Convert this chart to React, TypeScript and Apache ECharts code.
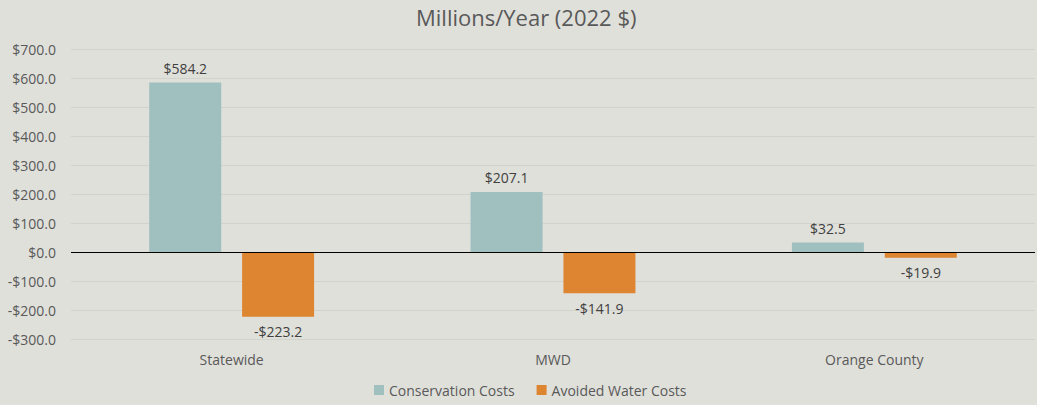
import React, { useEffect, useRef } from "react";
import * as echarts from "echarts";

const categories = ["Statewide", "MWD", "Orange County"];
const conservationCosts = [584.2, 207.1, 32.5];
const avoidedWaterCosts = [-223.2, -141.9, -19.9];
const seriesNames = ["Conservation Costs", "Avoided Water Costs"];
const titleText = "Millions/Year (2022 $)";

const fmt = (v: number) => (v < 0 ? "-$" + Math.abs(v).toFixed(1) : "$" + v.toFixed(1));
const FONT = "'Open Sans', 'Noto Sans', sans-serif";

export default function App() {
  const ref = useRef<HTMLDivElement>(null);
  useEffect(() => {
    if (!ref.current) return;
    const chart = echarts.init(ref.current, null, { renderer: "svg" });
    chart.setOption({
      animation: false,
      backgroundColor: "#e0e0db",
      textStyle: { fontFamily: FONT },
      title: {
        text: titleText,
        left: 411,
        top: 1,
        textStyle: { fontFamily: FONT, fontSize: 22, fontWeight: "normal", color: "#595959" },
      },
      legend: {
        bottom: 3,
        left: 369,
        itemWidth: 10,
        itemHeight: 10,
        itemGap: 22,
        icon: "rect",
        textStyle: { fontFamily: FONT, fontSize: 14, color: "#595959" },
        data: seriesNames,
      },
      grid: { left: 71, right: 2, top: 49, bottom: 66 },
      xAxis: {
        type: "category",
        data: categories,
        axisLine: { show: false, onZero: false },
        axisTick: { show: false },
        axisLabel: { margin: 13, fontFamily: FONT, fontSize: 14, color: "#595959" },
      },
      yAxis: {
        type: "value",
        min: -300,
        max: 700,
        interval: 100,
        axisLine: { show: false },
        axisTick: { show: false },
        splitLine: { lineStyle: { color: "#d3d3ce", width: 1 } },
        axisLabel: {
          margin: 15,
          fontFamily: FONT,
          fontSize: 14,
          color: "#595959",
          formatter: (v: number) => fmt(v),
        },
      },
      series: [
        {
          name: seriesNames[0],
          type: "bar",
          data: conservationCosts,
          barWidth: 72,
          barGap: "29%",
          itemStyle: { color: "#a0c0bf" },
          label: {
            show: true,
            position: "top",
            distance: 7,
            fontFamily: FONT,
            fontSize: 14,
            color: "#404040",
            formatter: (p: any) => fmt(p.value),
          },
          markLine: {
            silent: true,
            symbol: "none",
            label: { show: false },
            lineStyle: { color: "#000000", width: 1, type: "solid" },
            data: [{ yAxis: 0 }],
          },
        },
        {
          name: seriesNames[1],
          type: "bar",
          data: avoidedWaterCosts,
          barWidth: 72,
          barGap: "29%",
          itemStyle: { color: "#dd8530" },
          label: {
            show: true,
            position: "bottom",
            distance: 8,
            fontFamily: FONT,
            fontSize: 14,
            color: "#404040",
            formatter: (p: any) => fmt(p.value),
          },
        },
      ],
    });
    return () => chart.dispose();
  }, []);
  return (
    <div
      ref={ref}
      style={{ position: "absolute", left: 0, top: 0, width: 1037, height: 405 }}
    />
  );
}
